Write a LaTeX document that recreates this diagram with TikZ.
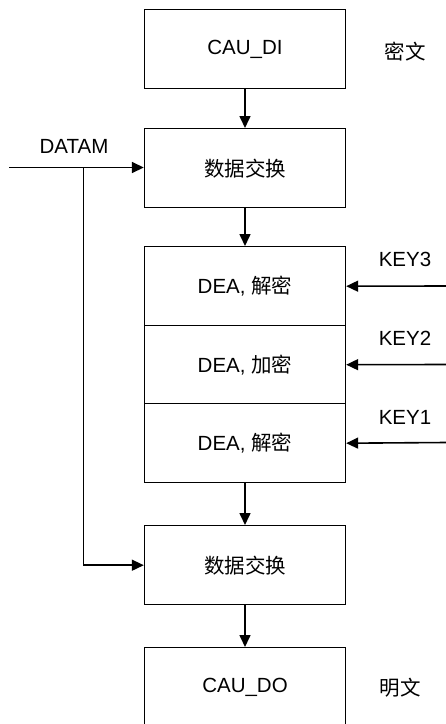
\documentclass[tikz,border=0pt]{standalone}
\usepackage{fontspec}
\setmainfont{Liberation Sans}
\newfontfamily\cjk{Noto Sans CJK SC}
\usetikzlibrary{arrows.meta,positioning}
\begin{document}
\begin{tikzpicture}[x=1pt,y=1pt,
  every node/.style={font=\fontsize{20.5}{24}\selectfont},
  blk/.style={draw=black,line width=1.4pt,minimum width=201pt,minimum height=79pt,inner sep=0pt,anchor=north},
  lbl/.style={inner sep=0pt},
  arr/.style={line width=1.6pt,-{Triangle[length=12pt,width=11pt]}},
  ln/.style={line width=1.6pt}]
\clip (0,0) rectangle (446,-724);
\fill[white] (0,0) rectangle (446,-724);
\node[blk] (cdi) at (245,-9) {CAU\_DI};
\node[blk] (sw1) at (245,-128) {{\cjk 数据交换}};
\node[blk,minimum height=79pt] (d3) at (245,-246) {DEA, {\cjk 解密}};
\node[blk,minimum height=78pt] (d2) at (245,-325) {DEA, {\cjk 加密}};
\node[blk,minimum height=79pt] (d1) at (245,-403) {DEA, {\cjk 解密}};
\node[blk] (sw2) at (245,-525) {{\cjk 数据交换}};
\node[blk] (cdo) at (245,-647) {CAU\_DO};
\node[lbl] (mw) at (405,-52) {{\cjk 密文}};
\node[lbl] (pw) at (400,-688) {{\cjk 明文}};
\node[lbl] (datam) at (74,-146) {DATAM};
\node[lbl] (k3) at (405,-259) {KEY3};
\node[lbl] (k2) at (405,-338) {KEY2};
\node[lbl] (k1) at (405,-417) {KEY1};
\coordinate (din) at (9,-167.5);
\coordinate (br) at (83.5,-167.5);
\coordinate (k3s) at (446,-286);
\coordinate (k2s) at (446,-364.5);
\coordinate (k1s) at (446,-442.5);
\draw[arr] (cdi.south) -- (sw1.north);
\draw[arr] (sw1.south) -- (d3.north);
\draw[arr] (d1.south) -- (sw2.north);
\draw[arr] (sw2.south) -- (cdo.north);
\draw[arr] (din) -- (din -| sw1.west);
\draw[arr] (br) |- (sw2.west);
\draw[arr] (k3s) -- (d3.east);
\draw[arr] (k2s) -- (d2.east);
\draw[arr] (k1s) -- (d1.east);
\end{tikzpicture}
\end{document}
